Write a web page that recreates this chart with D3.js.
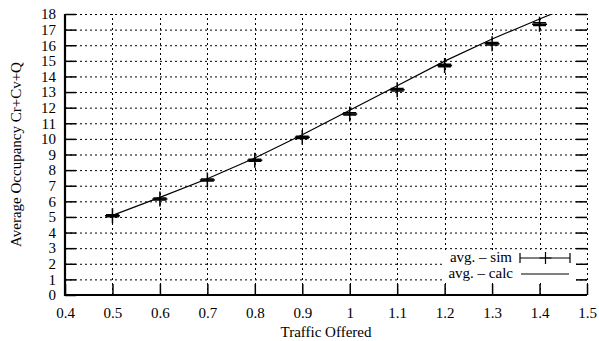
<!DOCTYPE html>
<html><head><meta charset="utf-8">
<script src="https://cdn.jsdelivr.net/npm/d3@7"></script>
<style>
body{margin:0;background:#fff;}
svg text{font-family:"Liberation Serif","DejaVu Serif","Times New Roman",serif !important;}
</style></head>
<body><svg id="c" width="599" height="341"></svg>
<script>
// Data
const simX   = [0.5, 0.6, 0.7, 0.8, 0.9, 1.0, 1.1, 1.2, 1.3, 1.4];
const simY   = [5.08, 6.15, 7.37, 8.63, 10.1, 11.6, 13.14, 14.7, 16.1, 17.35];
const simErr = [0.06, 0.07, 0.06, 0.07, 0.07, 0.07, 0.08, 0.08, 0.08, 0.09];
const calcX  = [0.5, 0.6, 0.7, 0.8, 0.9, 1.0, 1.1, 1.2, 1.3, 1.4, 1.45];
const calcY  = [5.1, 6.25, 7.45, 8.78, 10.26, 11.83, 13.4, 14.98, 16.4, 17.68, 18.3];
const xTicks = [0.4, 0.5, 0.6, 0.7, 0.8, 0.9, 1.0, 1.1, 1.2, 1.3, 1.4, 1.5];
const yTicks = [0,1,2,3,4,5,6,7,8,9,10,11,12,13,14,15,16,17,18];
const xLabel = "Traffic Offered";
const yLabel = "Average Occupancy Cr+Cv+Q";
const seriesNames = ["avg. \u2013 sim", "avg. \u2013 calc"];

const L = 65, R = 587, T = 14, B = 295;
const svg = d3.select("#c");
const x = d3.scaleLinear().domain([0.4, 1.5]).range([L, R]);
const y = d3.scaleLinear().domain([0, 18]).range([B, T]);

// grid
const grid = svg.append("g").attr("stroke", "#000").attr("stroke-width", 1).attr("stroke-dasharray", "2,3").attr("fill", "none");
grid.selectAll("line.h").data(yTicks.filter(d => d > 0)).join("line")
  .attr("x1", L).attr("x2", R).attr("y1", d => y(d) + 0.5).attr("y2", d => y(d) + 0.5);
grid.selectAll("line.v").data(xTicks.filter(d => d > 0.4)).join("line")
  .attr("y1", B).attr("y2", T).attr("x1", d => Math.round(x(d)) + 0.5).attr("x2", d => Math.round(x(d)) + 0.5);

// key background
svg.append("rect").attr("x", 443).attr("y", 250).attr("width", 133).attr("height", 33).attr("fill", "#fff");

// axes
const fs = 15;
const xAxis = svg.append("g").attr("transform", `translate(0,${B})`)
  .call(d3.axisBottom(x).tickValues(xTicks).tickSize(-11).tickPadding(12).tickFormat(d => String(+d.toFixed(1))));
const yAxis = svg.append("g").attr("transform", `translate(${L},0)`)
  .call(d3.axisLeft(y).tickValues(yTicks).tickSize(-11).tickPadding(9).tickFormat(d3.format("d")));
const yAxisR = svg.append("g").attr("transform", `translate(${R},0)`)
  .call(d3.axisRight(y).tickValues(yTicks.filter(d => d > 0)).tickSize(-11).tickFormat(""));
[xAxis, yAxis, yAxisR].forEach(g => {
  g.attr("font-family", null).attr("font-size", null);
  g.select(".domain").remove();
  g.selectAll(".tick line").attr("stroke", "#000").attr("stroke-width", 1.5);
  g.selectAll(".tick text").attr("fill", "#000").style("font-size", fs + "px");
});

// border (left, bottom)
svg.append("path").attr("d", `M${L},${T}V${B}H${R}`).attr("fill", "none").attr("stroke", "#000").attr("stroke-width", 2.2);

// clip
svg.append("clipPath").attr("id", "clip").append("rect").attr("x", L).attr("y", T).attr("width", R - L).attr("height", B - T);

// calc line
const pts = calcX.map((d, i) => [d, calcY[i]]);
svg.append("path").attr("clip-path", "url(#clip)")
  .attr("d", d3.line().x(d => x(d[0])).y(d => y(d[1]))(pts))
  .attr("fill", "none").attr("stroke", "#000").attr("stroke-width", 1.2);

// sim error bars with points
const cap = 6.5, ps = 7.5;
const sg = svg.append("g").attr("stroke", "#000").attr("stroke-width", 1.5).attr("fill", "none");
simX.forEach((xv, i) => {
  const cx = x(xv), lo = y(simY[i] - simErr[i]), hi = y(simY[i] + simErr[i]), cy = y(simY[i]);
  sg.append("path").attr("d", `M${cx},${lo}V${hi}M${cx - cap},${lo}H${cx + cap}M${cx - cap},${hi}H${cx + cap}`);
  sg.append("path").attr("d", `M${cx - ps},${cy}H${cx + ps}M${cx},${cy - ps}V${cy + ps}`).attr("stroke-width", 1.5);
});

// labels
svg.append("text").attr("x", (L + R) / 2).attr("y", 337).attr("text-anchor", "middle").style("font-size", "15px").text(xLabel);
svg.append("text").attr("transform", `translate(21,${(T + B) / 2}) rotate(-90)`).attr("text-anchor", "middle").style("font-size", "15px").text(yLabel);

// legend
const key = svg.append("g");
key.append("text").attr("x", 512).attr("y", 262).attr("text-anchor", "end").style("font-size", "15px").text(seriesNames[0]);
key.append("text").attr("x", 513).attr("y", 278).attr("text-anchor", "end").style("font-size", "15px").text(seriesNames[1]);
key.append("path").attr("d", "M520,258H570M520,253V263M570,253V263").attr("stroke", "#000").attr("stroke-width", 1.2).attr("fill", "none");
key.append("path").attr("d", "M539.5,258H551.5M545.5,252V264").attr("stroke", "#000").attr("stroke-width", 1.2).attr("fill", "none");
key.append("path").attr("d", "M521,274H569").attr("stroke", "#000").attr("stroke-width", 1.2);
</script></body></html>
